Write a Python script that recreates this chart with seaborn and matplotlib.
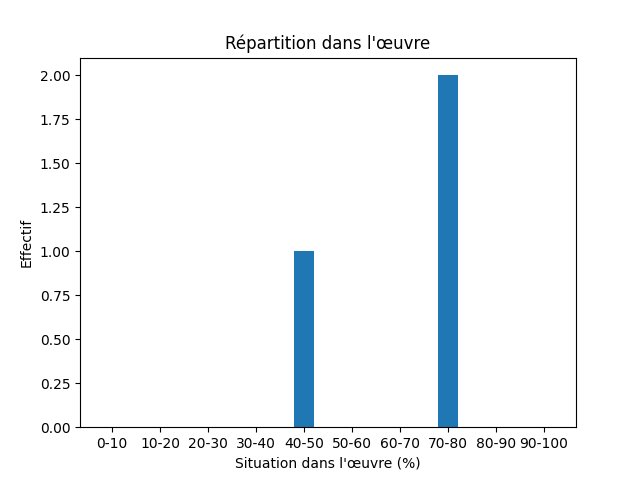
import matplotlib
matplotlib.use('Agg')
import matplotlib.pyplot as plt
import seaborn as sns

# Tranches de position dans l'oeuvre et effectifs
categories = ['0-10', '10-20', '20-30', '30-40', '40-50',
              '50-60', '60-70', '70-80', '80-90', '90-100']
effectifs = [0, 0, 0, 0, 1, 0, 0, 2, 0, 0]

fig, ax = plt.subplots(figsize=(6.4, 4.8), dpi=100)
sns.barplot(x=categories, y=effectifs, width=0.4, color='#1f77b4',
            saturation=1, ax=ax)

# same limits matplotlib's bar() would give (0.05 margins)
w = 0.4
n = len(categories)
m = 0.05 * (n - 1 + w)
ax.set_xlim(-w / 2 - m, n - 1 + w / 2 + m)
ax.set_ylim(0, max(effectifs) * 1.05)
ax.yaxis.set_major_formatter(matplotlib.ticker.FormatStrFormatter('%.2f'))

ax.set_title("Répartition dans l'œuvre")
ax.set_xlabel("Situation dans l'œuvre (%)")
ax.set_ylabel('Effectif')

plt.savefig('out.png')
